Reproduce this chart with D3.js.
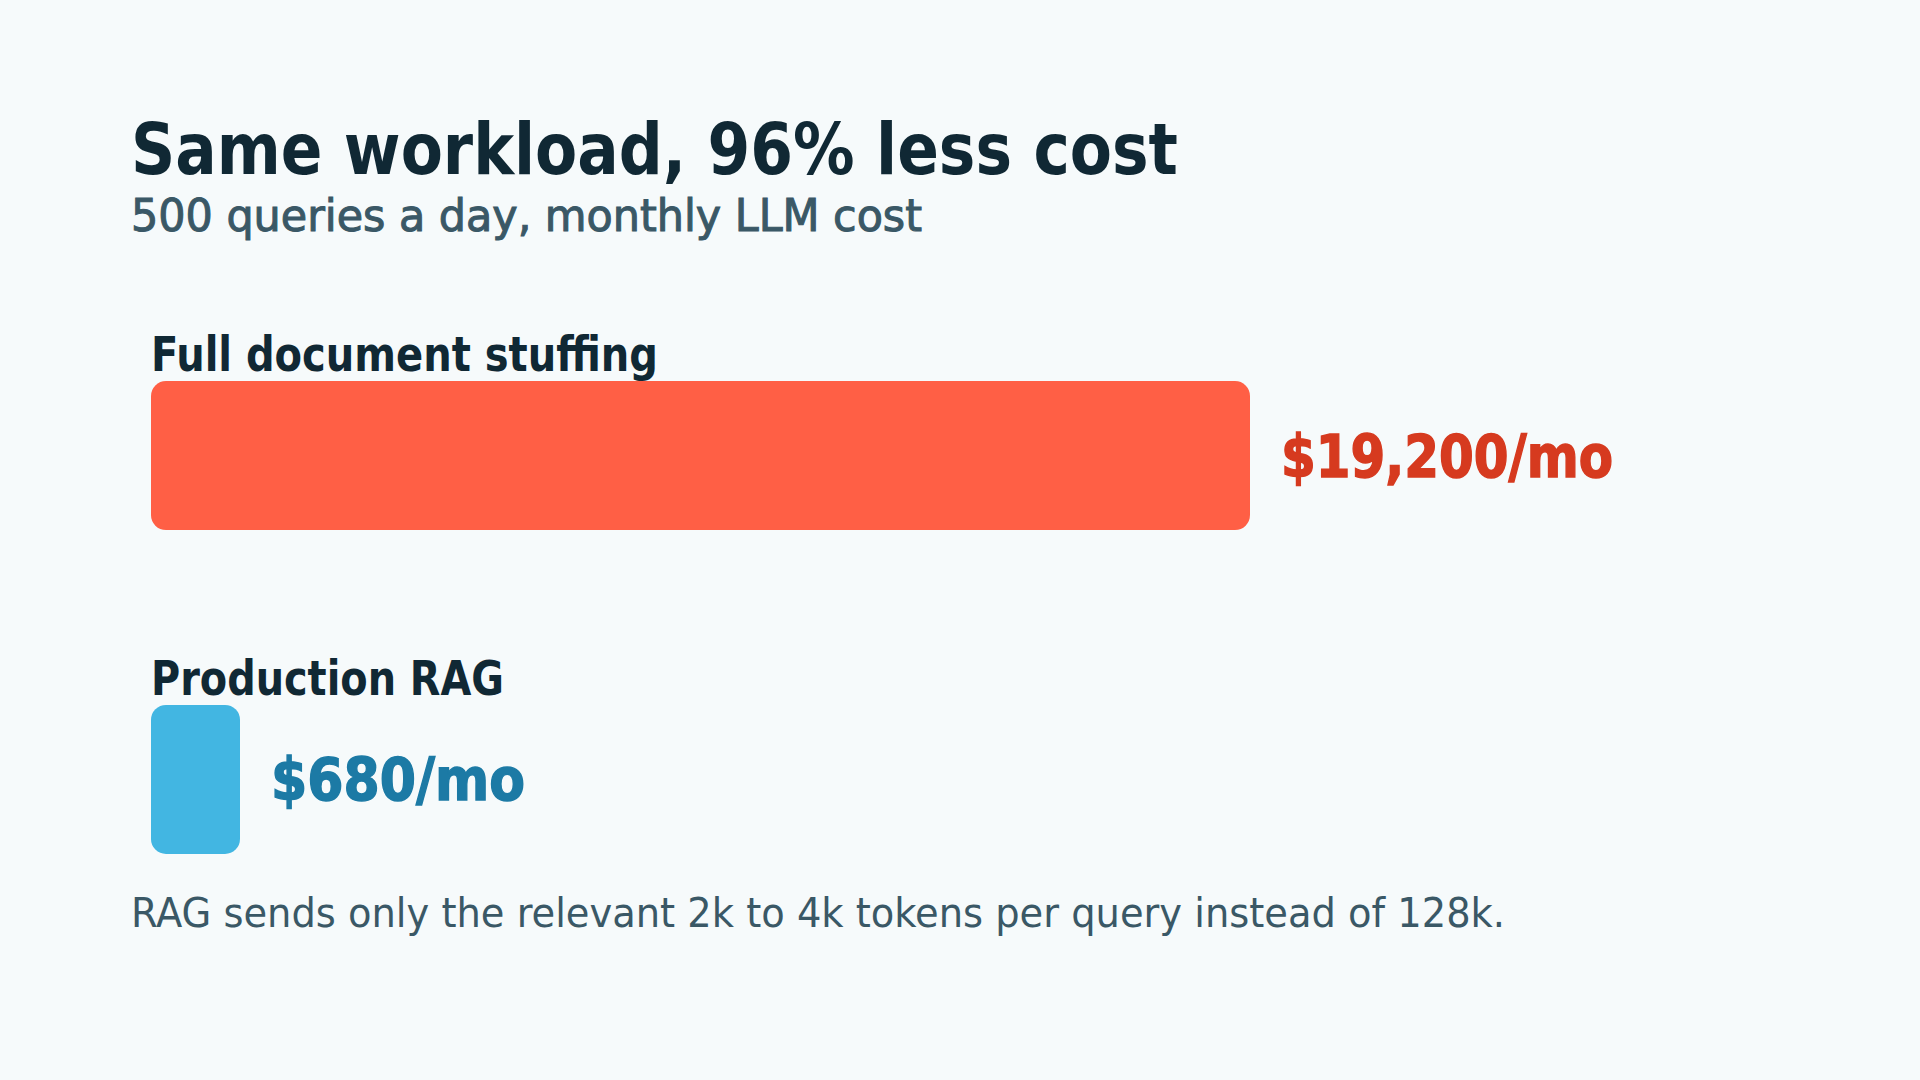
<!DOCTYPE html>
<html>
<head>
<meta charset="utf-8">
<script src="https://cdn.jsdelivr.net/npm/d3@7"></script>
<style>
  html, body { margin: 0; padding: 0; background: #f6fafb; }
  svg { display: block; }
</style>
</head>
<body>
<div id="chart"></div>
<script>
const categories = ["Full document stuffing", "Production RAG"];
const costs = [19200, 680];
const valueLabels = ["$19,200/mo", "$680/mo"];
const barColors = ["#ff5f45", "#42b6e2"];
const labelColors = ["#d63a1f", "#1c7aa5"];

const title = "Same workload, 96% less cost";
const subtitle = "500 queries a day, monthly LLM cost";
const note = "RAG sends only the relevant 2k to 4k tokens per query instead of 128k.";

const W = 1920, H = 1080;
const svg = d3.select("#chart").append("svg").attr("width", W).attr("height", H);
svg.append("rect").attr("width", W).attr("height", H).attr("fill", "#f6fafb");

const data = categories.map((c, i) => ({ name: c, cost: costs[i], label: valueLabels[i], i }));

const x = d3.scaleLinear().domain([0, d3.max(costs)]).range([151, 1250]);
const y = d3.scaleBand().domain(categories).range([381, 854]).paddingInner(0.54);
const minBar = 89;
const barW = d => Math.max(x(d.cost) - x(0), minBar);

svg.append("text")
    .attr("x", 131).attr("y", 174)
    .attr("font-family", "'DejaVu Sans'")
    .attr("font-weight", 700)
    .attr("font-size", 72)
    .attr("fill", "#102834")
    .attr("textLength", 1047).attr("lengthAdjust", "spacingAndGlyphs")
    .text(title);

svg.append("text")
    .attr("x", 131).attr("y", 231)
    .attr("font-family", "'DejaVu Sans Condensed', 'DejaVu Sans'")
    .attr("font-size", 45)
    .attr("fill", "#3a5866")
    .attr("stroke", "#3a5866")
    .attr("stroke-width", 1)
    .attr("textLength", 791).attr("lengthAdjust", "spacingAndGlyphs")
    .text(subtitle);

const rows = svg.selectAll(".row").data(data).enter().append("g").attr("class", "row");

rows.append("text")
    .attr("x", x(0))
    .attr("y", d => y(d.name) - 10)
    .attr("font-family", "'DejaVu Sans Condensed', 'DejaVu Sans'")
    .attr("font-weight", 700)
    .attr("font-size", 48)
    .attr("fill", "#102834")
    .attr("textLength", d => d.i === 0 ? 507 : 353)
    .attr("lengthAdjust", "spacingAndGlyphs")
    .text(d => d.name);

rows.append("rect")
    .attr("x", x(0))
    .attr("y", d => y(d.name))
    .attr("width", barW)
    .attr("height", y.bandwidth())
    .attr("rx", 15)
    .attr("fill", d => barColors[d.i]);

rows.append("text")
    .attr("x", d => x(0) + barW(d) + 31)
    .attr("y", d => y(d.name) + y.bandwidth() / 2 + 21)
    .attr("font-family", "'DejaVu Sans'")
    .attr("font-weight", 700)
    .attr("font-size", 58)
    .attr("fill", d => labelColors[d.i])
    .attr("stroke", d => labelColors[d.i])
    .attr("stroke-width", 1.5)
    .attr("textLength", d => d.i === 0 ? 332 : 254)
    .attr("lengthAdjust", "spacingAndGlyphs")
    .text(d => d.label);

svg.append("text")
    .attr("x", 131).attr("y", 927)
    .attr("font-family", "'DejaVu Sans Condensed', 'DejaVu Sans'")
    .attr("font-size", 41)
    .attr("fill", "#3a5866")
    .attr("textLength", 1374).attr("lengthAdjust", "spacingAndGlyphs")
    .text(note);
</script>
</body>
</html>
